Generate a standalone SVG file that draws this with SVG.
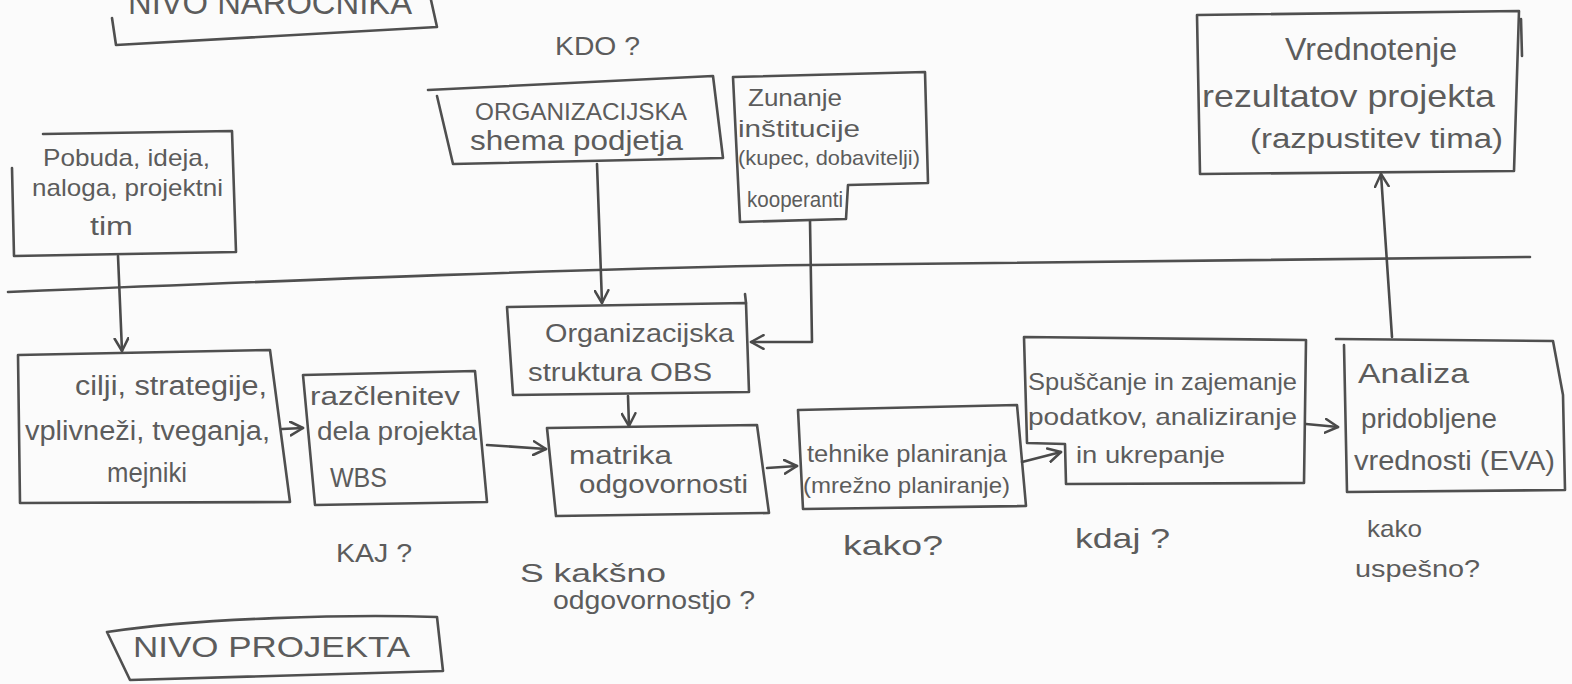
<svg xmlns="http://www.w3.org/2000/svg" width="1572" height="684" viewBox="0 0 1572 684">
  <style>
    .ln { fill: none; stroke: #4f4f4f; stroke-width: 2.6; stroke-linecap: round; stroke-linejoin: round; }
    .cn { fill: none; stroke: #4a4a4a; stroke-width: 2.6; stroke-linecap: round; stroke-linejoin: round; }
    .t { font-family: "Liberation Sans", "DejaVu Sans", sans-serif; fill: #5c5c5c; }
  </style>
  <defs>
    <marker id="arr" viewBox="0 0 14 14" refX="12" refY="7" markerWidth="16" markerHeight="16" markerUnits="userSpaceOnUse" orient="auto">
      <path d="M1,1 L12,7 L1,13" fill="none" stroke="#4a4a4a" stroke-width="2.2" stroke-linecap="round" stroke-linejoin="round"/>
    </marker>
  </defs>

  <rect width="1572" height="684" fill="#fbfbfb"/>

  <!-- level divider -->
  <path class="ln" d="M8,292 C300,280 600,268 810,265 L1530,257"/>

  <!-- client level label -->
  <g id="nivo-narocnika">
    <path class="ln" d="M112,18 L116,45 L437,27 L431,0"/>
    <text class="t" x="128" y="14" font-size="34" textLength="284" lengthAdjust="spacingAndGlyphs">NIVO NAROČNIKA</text>
  </g>

  <g id="kdo">
    <text class="t" x="555" y="55" font-size="26" textLength="85" lengthAdjust="spacingAndGlyphs">KDO ?</text>
  </g>

  <g id="shema">
    <path class="ln" d="M428,90 L713,76 L723,158 L453,164 L437,96"/>
    <text class="t" x="475" y="120" font-size="24" textLength="212" lengthAdjust="spacingAndGlyphs">ORGANIZACIJSKA</text>
    <text class="t" x="470" y="150" font-size="28" textLength="213" lengthAdjust="spacingAndGlyphs">shema podjetja</text>
  </g>

  <g id="zunanje">
    <path class="ln" d="M733,77 L925,72 L928,183 L848,185 L846,219 L740,222 Z"/>
    <text class="t" x="748" y="106" font-size="24" textLength="94" lengthAdjust="spacingAndGlyphs">Zunanje</text>
    <text class="t" x="738" y="137" font-size="24" textLength="122" lengthAdjust="spacingAndGlyphs">inštitucije</text>
    <text class="t" x="738" y="165" font-size="21" textLength="182" lengthAdjust="spacingAndGlyphs">(kupec, dobavitelji)</text>
    <text class="t" x="747" y="207" font-size="22" textLength="96" lengthAdjust="spacingAndGlyphs">kooperanti</text>
  </g>

  <g id="vrednotenje">
    <path class="ln" d="M1197,15 L1519,11 L1514,171 L1200,174 Z"/>
    <path class="ln" d="M1521,19 L1522,56"/>
    <text class="t" x="1285" y="60" font-size="32" textLength="172" lengthAdjust="spacingAndGlyphs">Vrednotenje</text>
    <text class="t" x="1202" y="107" font-size="32" textLength="293" lengthAdjust="spacingAndGlyphs">rezultatov projekta</text>
    <text class="t" x="1250" y="148" font-size="27" textLength="253" lengthAdjust="spacingAndGlyphs">(razpustitev tima)</text>
  </g>

  <g id="pobuda">
    <path class="ln" d="M43,134 L232,131 L236,252 L14,256 L12,168"/>
    <text class="t" x="43" y="166" font-size="24" textLength="167" lengthAdjust="spacingAndGlyphs">Pobuda, ideja,</text>
    <text class="t" x="32" y="196" font-size="24" textLength="191" lengthAdjust="spacingAndGlyphs">naloga, projektni</text>
    <text class="t" x="90" y="235" font-size="26" textLength="43" lengthAdjust="spacingAndGlyphs">tim</text>
  </g>

  <g id="cilji">
    <path class="ln" d="M18,355 L270,350 L290,502 L20,503 Z"/>
    <text class="t" x="75" y="395" font-size="27" textLength="192" lengthAdjust="spacingAndGlyphs">cilji, strategije,</text>
    <text class="t" x="25" y="440" font-size="27" textLength="245" lengthAdjust="spacingAndGlyphs">vplivneži, tveganja,</text>
    <text class="t" x="107" y="482" font-size="27" textLength="80" lengthAdjust="spacingAndGlyphs">mejniki</text>
  </g>

  <g id="wbs">
    <path class="ln" d="M303,375 L475,371 L487,502 L315,505 Z"/>
    <text class="t" x="310" y="405" font-size="26" textLength="150" lengthAdjust="spacingAndGlyphs">razčlenitev</text>
    <text class="t" x="317" y="440" font-size="26" textLength="160" lengthAdjust="spacingAndGlyphs">dela projekta</text>
    <text class="t" x="330" y="487" font-size="27" textLength="57" lengthAdjust="spacingAndGlyphs">WBS</text>
  </g>

  <g id="obs">
    <path class="ln" d="M507,307 L746,303 L749,392 L513,395 Z"/>
    <path class="ln" d="M746,303 L745,294"/>
    <text class="t" x="545" y="342" font-size="26" textLength="189" lengthAdjust="spacingAndGlyphs">Organizacijska</text>
    <text class="t" x="528" y="381" font-size="26" textLength="184" lengthAdjust="spacingAndGlyphs">struktura OBS</text>
  </g>

  <g id="matrika">
    <path class="ln" d="M547,428 L757,425 L769,513 L556,516 Z"/>
    <text class="t" x="569" y="464" font-size="26" textLength="103" lengthAdjust="spacingAndGlyphs">matrika</text>
    <text class="t" x="579" y="493" font-size="26" textLength="169" lengthAdjust="spacingAndGlyphs">odgovornosti</text>
  </g>

  <g id="tehnike">
    <path class="ln" d="M798,410 L1017,405 L1026,506 L803,509 Z"/>
    <text class="t" x="807" y="462" font-size="23" textLength="200" lengthAdjust="spacingAndGlyphs">tehnike planiranja</text>
    <text class="t" x="803" y="493" font-size="22" textLength="207" lengthAdjust="spacingAndGlyphs">(mrežno planiranje)</text>
  </g>

  <g id="spremljanje">
    <path class="ln" d="M1024,337 L1306,340 L1304,483 L1066,484 L1065,444 L1027,443 Z"/>
    <text class="t" x="1028" y="390" font-size="24" textLength="269" lengthAdjust="spacingAndGlyphs">Spuščanje in zajemanje</text>
    <text class="t" x="1028" y="425" font-size="24" textLength="269" lengthAdjust="spacingAndGlyphs">podatkov, analiziranje</text>
    <text class="t" x="1076" y="463" font-size="24" textLength="149" lengthAdjust="spacingAndGlyphs">in ukrepanje</text>
  </g>

  <g id="eva">
    <path class="ln" d="M1336,339 L1553,341 L1563,395 L1565,490 L1347,492 L1344,345"/>
    <text class="t" x="1358" y="383" font-size="27" textLength="111" lengthAdjust="spacingAndGlyphs">Analiza</text>
    <text class="t" x="1361" y="428" font-size="27" textLength="136" lengthAdjust="spacingAndGlyphs">pridobljene</text>
    <text class="t" x="1354" y="470" font-size="27" textLength="201" lengthAdjust="spacingAndGlyphs">vrednosti (EVA)</text>
  </g>

  <!-- questions under the project chain -->
  <g id="kaj"><text class="t" x="336" y="562" font-size="26" textLength="76" lengthAdjust="spacingAndGlyphs">KAJ ?</text></g>
  <g id="s-kaksno">
    <text class="t" x="520" y="582" font-size="26" textLength="146" lengthAdjust="spacingAndGlyphs">S kakšno</text>
    <text class="t" x="553" y="609" font-size="26" textLength="202" lengthAdjust="spacingAndGlyphs">odgovornostjo ?</text>
  </g>
  <g id="kako"><text class="t" x="843" y="555" font-size="28" textLength="100" lengthAdjust="spacingAndGlyphs">kako?</text></g>
  <g id="kdaj"><text class="t" x="1075" y="548" font-size="28" textLength="95" lengthAdjust="spacingAndGlyphs">kdaj ?</text></g>
  <g id="kako-uspesno">
    <text class="t" x="1367" y="537" font-size="24" textLength="55" lengthAdjust="spacingAndGlyphs">kako</text>
    <text class="t" x="1355" y="577" font-size="24" textLength="125" lengthAdjust="spacingAndGlyphs">uspešno?</text>
  </g>

  <!-- project level label -->
  <g id="nivo-projekta">
    <path class="ln" d="M107,632 C200,618 350,614 437,617 L443,671 L130,680 Z"/>
    <text class="t" x="133" y="657" font-size="30" textLength="277" lengthAdjust="spacingAndGlyphs">NIVO PROJEKTA</text>
  </g>

  <g id="connectors">
    <path class="cn" d="M118,256 L122,351" marker-end="url(#arr)"/>
    <path class="cn" d="M597,164 L602,303" marker-end="url(#arr)"/>
    <path class="cn" d="M810,221 L812,342 L751,342" marker-end="url(#arr)"/>
    <path class="cn" d="M628,396 L629,426" marker-end="url(#arr)"/>
    <path class="cn" d="M282,429 L303,428" marker-end="url(#arr)"/>
    <path class="cn" d="M487,445 L546,449" marker-end="url(#arr)"/>
    <path class="cn" d="M767,468 L797,466" stroke-width="4" marker-end="url(#arr)"/>
    <path class="cn" d="M1022,462 L1061,452" marker-end="url(#arr)"/>
    <path class="cn" d="M1306,424 L1338,427" marker-end="url(#arr)"/>
    <path class="cn" d="M1392,337 L1381,174" stroke-width="3.2" marker-end="url(#arr)"/>
  </g>
</svg>
